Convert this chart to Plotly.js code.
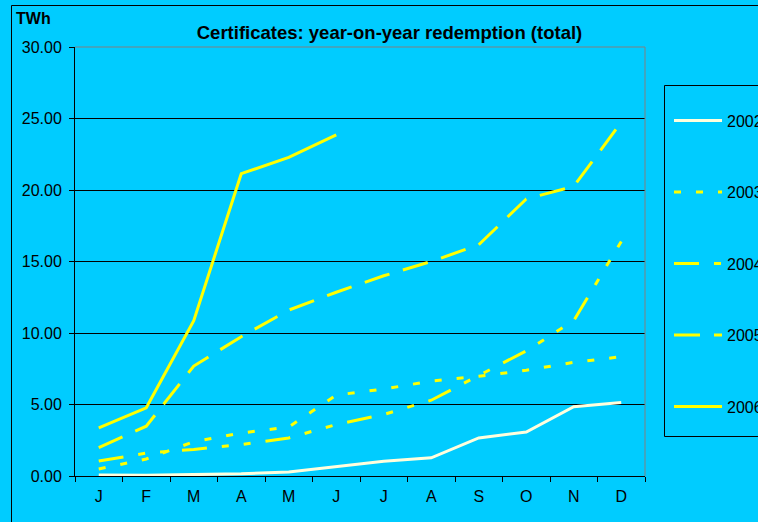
<!DOCTYPE html>
<html>
<head>
<meta charset="utf-8">
<script src="https://cdn.plot.ly/plotly-3.0.1.min.js"></script>
<style>html,body{margin:0;padding:0;background:#00CCFF;}</style>
</head>
<body>
<div id="chart" style="width:758px;height:522px;"></div>
<script>
// Categories and tick labels
const months = ['Jan','Feb','Mar','Apr','May','Jun','Jul','Aug','Sep','Oct','Nov','Dec'];
const monthLetters = ['J','F','M','A','M','J','J','A','S','O','N','D'];

// Series values (TWh)
const y2002 = [0.07, 0.05, 0.10, 0.15, 0.28, 0.68, 1.03, 1.27, 2.66, 3.08, 4.84, 5.14];
const y2003 = [0.49, 1.19, 2.40, 3.00, 3.43, 5.66, 6.08, 6.64, 6.97, 7.39, 7.95, 8.34];
const y2004 = [1.05, 1.60, 1.86, 2.20, 2.66, 3.60, 4.30, 5.30, 7.03, 8.75, 10.86, 16.40];
const y2005 = [1.99, 3.48, 7.69, 9.74, 11.60, 12.85, 14.00, 15.00, 16.17, 19.37, 20.25, 24.74];
const y2006 = [3.36, 4.77, 10.86, 21.14, 22.28, 23.85];

const seriesNames = ['2002','2003','2004','2005','2006'];
const seriesValues = [y2002, y2003, y2004, y2005, y2006];

const styles = [
  {color:'#FFFFDD', dash:'solid'},
  {color:'#FFFF00', dash:'7px,15px'},
  {color:'#FFFF00', dash:'25px,15px,7px,15px,7px,15px'},
  {color:'#FFFF00', dash:'26px,14px'},
  {color:'#FFFF00', dash:'solid'}
];

const traces = seriesNames.map((n, i) => ({
  type:'scatter', mode:'lines', name:n,
  x: months.slice(0, seriesValues[i].length),
  y: seriesValues[i],
  line:{color:styles[i].color, width:3, dash:styles[i].dash},
  legendgroup:'g'+n,
  hoverinfo:'skip'
}));

const font = 'Liberation Sans, Arial, sans-serif';
const L = 75, R = 645, T = 47, B = 476;
const pw = R - L, ph = B - T;
const px = v => (v - L) / pw;
const py = v => (B - v) / ph;

const hline = (x0, x1, y, color) => ({type:'line', xref:'paper', yref:'paper', x0:px(x0), x1:px(x1), y0:py(y), y1:py(y), line:{color:color, width:1}});
const vline = (x, y0, y1, color) => ({type:'line', xref:'paper', yref:'paper', x0:px(x), x1:px(x), y0:py(y0), y1:py(y1), line:{color:color, width:1}});

const layout = {
  width:758, height:522,
  margin:{l:L, r:758-R, t:T, b:522-B, autoexpand:false},
  paper_bgcolor:'#00CCFF', plot_bgcolor:'#00CCFF',
  font:{family:font, size:16, color:'#000'},
  title:{text:'Certificates: year-on-year redemption (total)', xref:'container', yref:'container',
    x:389.5/758, y:1-33/522, xanchor:'center', yanchor:'middle',
    font:{family:font, size:18.5, weight:'bold', color:'#000'}},
  showlegend:true,
  legend:{x:px(669), y:py(103.5), xanchor:'left', yanchor:'top', bgcolor:'rgba(0,0,0,0)',
    borderwidth:0, traceorder:'grouped', tracegroupgap:47.7, itemwidth:48,
    font:{family:font, size:16, color:'#000'}},
  xaxis:{type:'category', categoryorder:'array', categoryarray:months, range:[-0.5, 11.5],
    tickmode:'array', tickvals:months, ticktext:monthLetters, tickson:'boundaries',
    ticks:'outside', ticklen:5, tickcolor:'#000', showline:true, linecolor:'#000', linewidth:1,
    showgrid:false, zeroline:false, ticklabelstandoff:6,
    tickfont:{family:font, size:16, color:'#000'}},
  yaxis:{range:[0,30], dtick:5, tick0:0, tickformat:'.2f', ticks:'outside', ticklen:5, tickcolor:'#000',
    showline:true, linecolor:'#000', linewidth:1, showgrid:true, gridcolor:'#000', gridwidth:1,
    zeroline:false, ticklabelstandoff:4, tickfont:{family:font, size:16, color:'#000'}},
  shapes:[
    // outer chart border (left and top edges)
    vline(11.5, 5.5, 560, '#000'),
    hline(11.5, 800, 5.5, '#000'),
    // plot area border (top and right)
    {type:'line', xref:'paper', yref:'paper', x0:0, x1:1, y0:1, y1:1, line:{color:'#808080', width:1}},
    {type:'line', xref:'paper', yref:'paper', x0:1, x1:1, y0:0, y1:1, line:{color:'#808080', width:1}},
    // legend box (left, top, bottom edges)
    vline(664.5, 85.5, 436.5, '#000'),
    hline(664.5, 800, 85.5, '#000'),
    hline(664.5, 800, 436.5, '#000')
  ],
  annotations:[
    {text:'TWh', xref:'paper', yref:'paper', x:px(33), y:py(19), xanchor:'center', yanchor:'middle',
     showarrow:false, font:{family:font, size:16, weight:'bold', color:'#000'}}
  ]
};

Plotly.newPlot('chart', traces, layout, {displayModeBar:false, staticPlot:true});
</script>
</body>
</html>
